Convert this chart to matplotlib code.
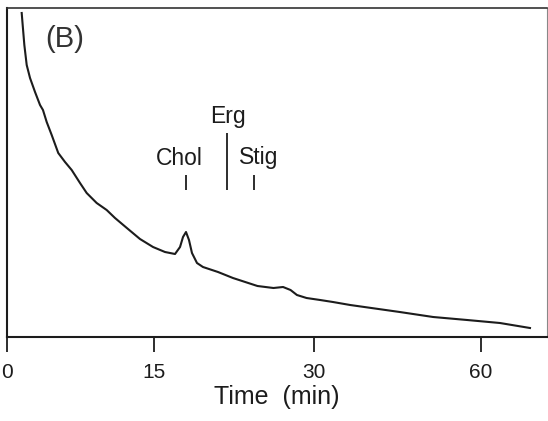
import numpy as np
import matplotlib
matplotlib.use("Agg")
import matplotlib.pyplot as plt
from matplotlib.scale import FuncScale

plt.rcParams["font.family"] = ["Liberation Sans", "DejaVu Sans"]

# chromatogram trace: retention time (min) and detector response (arbitrary units)
time_min = [1.50, 1.60, 1.77, 2.01, 2.35, 2.86, 3.37, 3.67, 4.05, 4.56, 5.23,
            5.92, 6.60, 7.45, 8.13, 9.15, 10.17, 11.02, 12.35, 13.57, 14.9,
            16.03, 16.97, 17.44, 17.72, 18.0, 18.28, 18.56, 19.03, 19.59, 21.0,
            22.4, 24.7, 26.2, 27.1, 27.8, 28.4, 29.3, 31.1, 33.4, 36.5,
            45.4, 51.4, 57.5, 63.4, 68.8]
response = [324, 312, 292, 272, 259, 245, 232, 227, 215, 202, 184,
            175, 167, 154, 144, 134, 127, 119, 108, 98, 90,
            85, 83, 90, 100, 105, 97, 84, 74, 70, 65,
            59, 51, 49, 50, 47, 42, 39, 37, 35, 32,
            25, 20, 17, 14, 9]

# standards' retention times
peak_names = ["Chol", "Erg", "Stig"]
peak_times = [18.0, 21.8, 24.4]

x_ticks = [0, 15, 30, 60]

# recorder time axis is not uniform: knots of a piecewise-linear scale
knot_t = np.array([0.0, 15.0, 30.0, 60.0])
knot_p = np.array([0.0, 147.0, 307.0, 474.0])
slope_lo = knot_p[1] / knot_t[1]
slope_hi = (knot_p[-1] - knot_p[-2]) / (knot_t[-1] - knot_t[-2])


def fwd(t):
    t = np.asarray(t, dtype=float)
    p = np.interp(t, knot_t, knot_p)
    p = np.where(t > knot_t[-1], knot_p[-1] + (t - knot_t[-1]) * slope_hi, p)
    p = np.where(t < 0, t * slope_lo, p)
    return p


def inv(p):
    p = np.asarray(p, dtype=float)
    t = np.interp(p, knot_p, knot_t)
    t = np.where(p > knot_p[-1], knot_t[-1] + (p - knot_p[-1]) / slope_hi, t)
    t = np.where(p < 0, p / slope_lo, t)
    return t


ink = "#1c1c1c"
fig = plt.figure(figsize=(5.48, 4.21), dpi=100)
ax = fig.add_axes([7 / 548, 1 - 337 / 421, 540 / 548, 329 / 421])

ax.set_xscale(FuncScale(ax, (fwd, inv)))
ax.plot(time_min, response, color=ink, lw=1.5, solid_joinstyle="round")

ax.set_xlim(0, inv(540.0))
ax.set_ylim(0, 329)
ax.set_xticks(x_ticks)
ax.set_xticklabels([str(v) for v in x_ticks])
ax.set_yticks([])
ax.tick_params(axis="x", direction="out", length=11, width=1.3,
               labelsize=15, colors=ink, pad=8)
ax.set_xlabel("Time  (min)", fontsize=18, color=ink, labelpad=2)

for side in ["left", "bottom"]:
    ax.spines[side].set_linewidth(1.5)
    ax.spines[side].set_color(ink)
ax.spines["top"].set_linewidth(1.2)
ax.spines["top"].set_color("#333333")
ax.spines["right"].set_linewidth(0.8)
ax.spines["right"].set_color("#888888")

# peak markers for the standards
ax.vlines(peak_times[0], 147, 162, color=ink, lw=1.3)
ax.vlines(peak_times[1], 147, 204, color=ink, lw=1.3)
ax.vlines(peak_times[2], 147, 162, color=ink, lw=1.3)
ax.text(17.4, 172, peak_names[0], ha="center", va="baseline", fontsize=16.5, color=ink)
ax.text(21.9, 214, peak_names[1], ha="center", va="baseline", fontsize=16.5, color=ink)
ax.text(24.8, 173, peak_names[2], ha="center", va="baseline", fontsize=16.5, color=ink)

ax.text(0.107, 0.905, "(B)", transform=ax.transAxes, ha="center", va="center",
        fontsize=21, color="#333333")

fig.savefig("out.png", dpi=100)
